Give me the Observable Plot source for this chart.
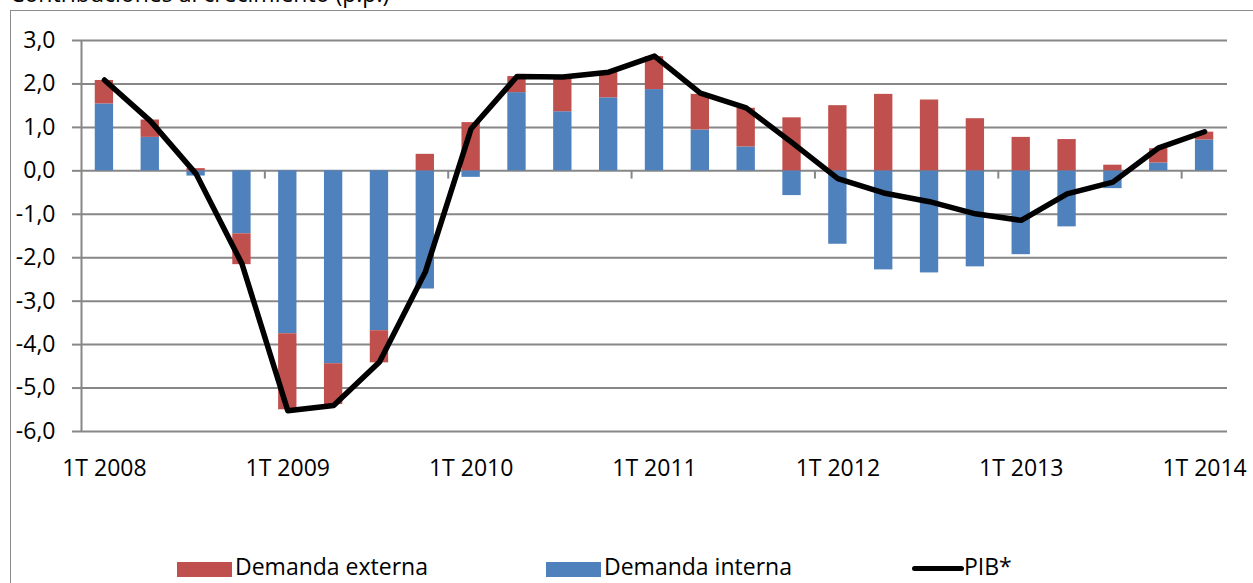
<!DOCTYPE html>
<html><head><meta charset="utf-8">
<script src="https://cdn.jsdelivr.net/npm/d3@7"></script>
<script src="https://cdn.jsdelivr.net/npm/@observablehq/plot@0.6"></script>
<style>
body{margin:0;background:#fff;font-family:"Open Sans",sans-serif;color:#000;}
#wrap{position:relative;width:1253px;height:583px;overflow:hidden;background:#fff;}
#frame{position:absolute;left:10px;top:10px;width:1400px;height:800px;border:1.5px solid #8c8c8c;box-sizing:border-box;}
#title{position:absolute;left:10px;top:-18.5px;font-size:23px;line-height:23px;white-space:nowrap;}
#chart{position:absolute;left:0;top:0;}
#legend{position:absolute;top:553px;left:0;width:1253px;height:30px;font-size:23px;line-height:27px;}
.item{position:absolute;top:0;height:27px;white-space:nowrap;}
.sw{position:absolute;}
.lbl{position:absolute;top:0;}
</style>
</head><body>
<div id="wrap">
  <div id="frame"></div>
  <div id="title">Contribuciones al crecimiento (p.p.)</div>
  <div id="chart"></div>
  <div id="legend"></div>
</div>
<script>
const quarters = ["1T 2008","2T 2008","3T 2008","4T 2008","1T 2009","2T 2009","3T 2009","4T 2009",
  "1T 2010","2T 2010","3T 2010","4T 2010","1T 2011","2T 2011","3T 2011","4T 2011",
  "1T 2012","2T 2012","3T 2012","4T 2012","1T 2013","2T 2013","3T 2013","4T 2013","1T 2014"];
const interna = [1.54,0.77,-0.12,-1.45,-3.75,-4.44,-3.68,-2.72,-0.15,1.80,1.36,1.68,1.87,0.94,0.55,-0.57,-1.69,-2.28,-2.35,-2.21,-1.93,-1.29,-0.41,0.18,0.71];
const externa = [0.54,0.40,0.05,-0.71,-1.75,-0.94,-0.74,0.38,1.11,0.37,0.78,0.59,0.76,0.82,0.89,1.22,1.50,1.76,1.63,1.20,0.77,0.72,0.13,0.33,0.18];
const pib = [2.09,1.15,-0.07,-2.14,-5.52,-5.40,-4.40,-2.33,0.97,2.17,2.16,2.27,2.64,1.79,1.45,0.65,-0.18,-0.51,-0.71,-0.99,-1.14,-0.53,-0.26,0.53,0.90];
const yTicks = [3,2,1,0,-1,-2,-3,-4,-5,-6];
const seriesNames = ["Demanda externa","Demanda interna","PIB*"];
const seriesColors = ["#C0504D","#4F81BD","#000000"];

// layout (not data)
const legendLeft = [177, 546, 912];

const rows = quarters.flatMap((q, i) => [
  {i, q, serie: seriesNames[1], v: interna[i]},
  {i, q, serie: seriesNames[0], v: externa[i]}
]);
const pibRows = pib.map((v, i) => ({i, v}));
const labelIdx = quarters.map((q, i) => i).filter(i => quarters[i].startsWith("1T"));
const boundaries = labelIdx.filter(i => i > 0).map(i => i - 0.5);
const fmt = d => d.toFixed(1).replace(".", ",");
const half = 0.2;

const chart = Plot.plot({
  width: 1253, height: 490,
  marginLeft: 81, marginRight: 26, marginTop: 40, marginBottom: 59,
  style: {fontFamily: "Open Sans", fontSize: "23px", color: "#000", background: "transparent", overflow: "visible"},
  x: {type: "linear", domain: [-0.5, quarters.length - 0.5]},
  y: {domain: [-6, 3]},
  color: {domain: seriesNames.slice(0, 2), range: seriesColors.slice(0, 2)},
  marks: [
    Plot.ruleY(yTicks, {stroke: "#878787", strokeWidth: 2}),
    Plot.ruleX([-0.5], {stroke: "#878787", strokeWidth: 2}),
    Plot.ruleX(boundaries, {y1: 0, y2: -0.19, stroke: "#878787", strokeWidth: 2}),
    Plot.rectY(rows, {x1: d => d.i - half, x2: d => d.i + half, y: "v", fill: "serie"}),
    Plot.line(pibRows, {x: "i", y: "v", stroke: "#000", strokeWidth: 5.5, strokeLinejoin: "round", strokeLinecap: "round"}),
    Plot.axisY({ticks: yTicks, tickSize: 9, tickPadding: 17, tickFormat: fmt, stroke: "#878787", strokeWidth: 2, fill: "#000", label: null}),
    Plot.axisX({ticks: labelIdx, tickSize: 0, tickPadding: 28, tickFormat: i => quarters[i], fill: "#000", label: null})
  ]
});
document.getElementById("chart").appendChild(chart);

const legend = document.getElementById("legend");
seriesNames.forEach((name, k) => {
  const item = document.createElement("div");
  item.className = "item";
  item.style.left = legendLeft[k] + "px";
  const sw = document.createElement("div");
  sw.className = "sw";
  if (k < 2) {
    sw.style.cssText = `left:0;top:9px;width:55px;height:15px;background:${seriesColors[k]}`;
  } else {
    sw.style.cssText = `left:0;top:13px;width:52px;height:5px;border-radius:3px;background:${seriesColors[k]}`;
  }
  const lbl = document.createElement("div");
  lbl.className = "lbl";
  lbl.style.left = (k < 2 ? 58 : 52) + "px";
  lbl.textContent = name;
  item.appendChild(sw);
  item.appendChild(lbl);
  legend.appendChild(item);
});
</script>
</body></html>
